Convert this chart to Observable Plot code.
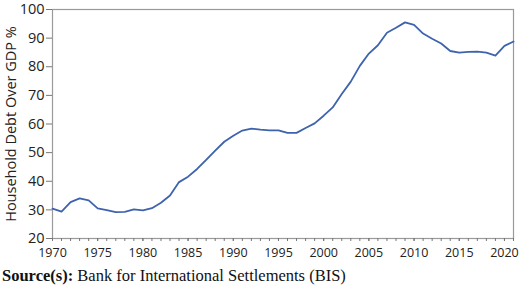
<!DOCTYPE html>
<html>
<head>
<meta charset="utf-8">
<script src="https://cdn.jsdelivr.net/npm/d3@7"></script>
<script src="https://cdn.jsdelivr.net/npm/@observablehq/plot@0.6"></script>
<style>
  html, body { margin: 0; padding: 0; background: #fff; }
  #chart { width: 520px; }
  #chart svg { display: block; overflow: visible; }
  .caption {
    font-family: "Liberation Serif", "Times New Roman", serif;
    font-size: 16.5px;
    color: #111;
    margin: 6px 0 0 2px;
    line-height: 20px;
    white-space: nowrap;
  }
</style>
</head>
<body>
<div id="chart"></div>
<script>
// Household debt as a share of GDP, annual, 1970–2021
const years = d3.range(1970, 2022);
const debtToGdp = [
  30.4, 29.4, 32.7, 34.0, 33.3, 30.5, 29.9, 29.2, 29.3, 30.2,
  29.8, 30.6, 32.5, 35.0, 39.7, 41.6, 44.3, 47.5, 50.7, 53.8,
  55.9, 57.7, 58.4, 58.0, 57.8, 57.8, 56.9, 56.9, 58.6, 60.2,
  62.9, 65.8, 70.5, 74.8, 80.3, 84.6, 87.5, 91.9, 93.6, 95.5,
  94.6, 91.6, 89.8, 88.1, 85.5, 84.9, 85.2, 85.3, 84.9, 83.9,
  87.3, 88.8
];
const yTicks = [20, 30, 40, 50, 60, 70, 80, 90, 100];
const xTickLabels = [1970, 1975, 1980, 1985, 1990, 1995, 2000, 2005, 2010, 2015, 2020];

const data = years.map((year, i) => ({year, value: debtToGdp[i]}));

const chart = Plot.plot({
  width: 520,
  height: 260,
  marginLeft: 52,
  marginRight: 7,
  marginTop: 9,
  marginBottom: 22,
  style: {fontFamily: "'Open Sans', sans-serif", fontSize: "12px", color: "#222", background: "#fff"},
  x: {domain: [1970, 2021]},
  y: {domain: [20, 100]},
  marks: [
    Plot.frame({stroke: "#9a9a9a", strokeWidth: 1.2}),
    // minor ticks for every year
    Plot.axisX({ticks: years, tickSize: 3, tickFormat: () => "", stroke: "#777", label: null}),
    Plot.axisX({ticks: xTickLabels, tickSize: 3, tickPadding: 7, tickFormat: d => String(d), stroke: "#777", fontSize: 12.5, fill: "#222", label: null}),
    Plot.axisY({ticks: yTicks, tickSize: 6, tickPadding: 2, stroke: "#777", fontSize: 12.5, fill: "#222",
      label: "Household Debt Over GDP %", labelAnchor: "center", labelArrow: "none", labelOffset: 47, fontSize: 14.5}),
    Plot.lineY(data, {x: "year", y: "value", stroke: "#3e63ae", strokeWidth: 1.8})
  ]
});
document.getElementById("chart").append(chart);

const cap = document.createElement("div");
cap.className = "caption";
cap.innerHTML = "<b>Source(s):</b> Bank for International Settlements (BIS)";
document.getElementById("chart").append(cap);
</script>
</body>
</html>
